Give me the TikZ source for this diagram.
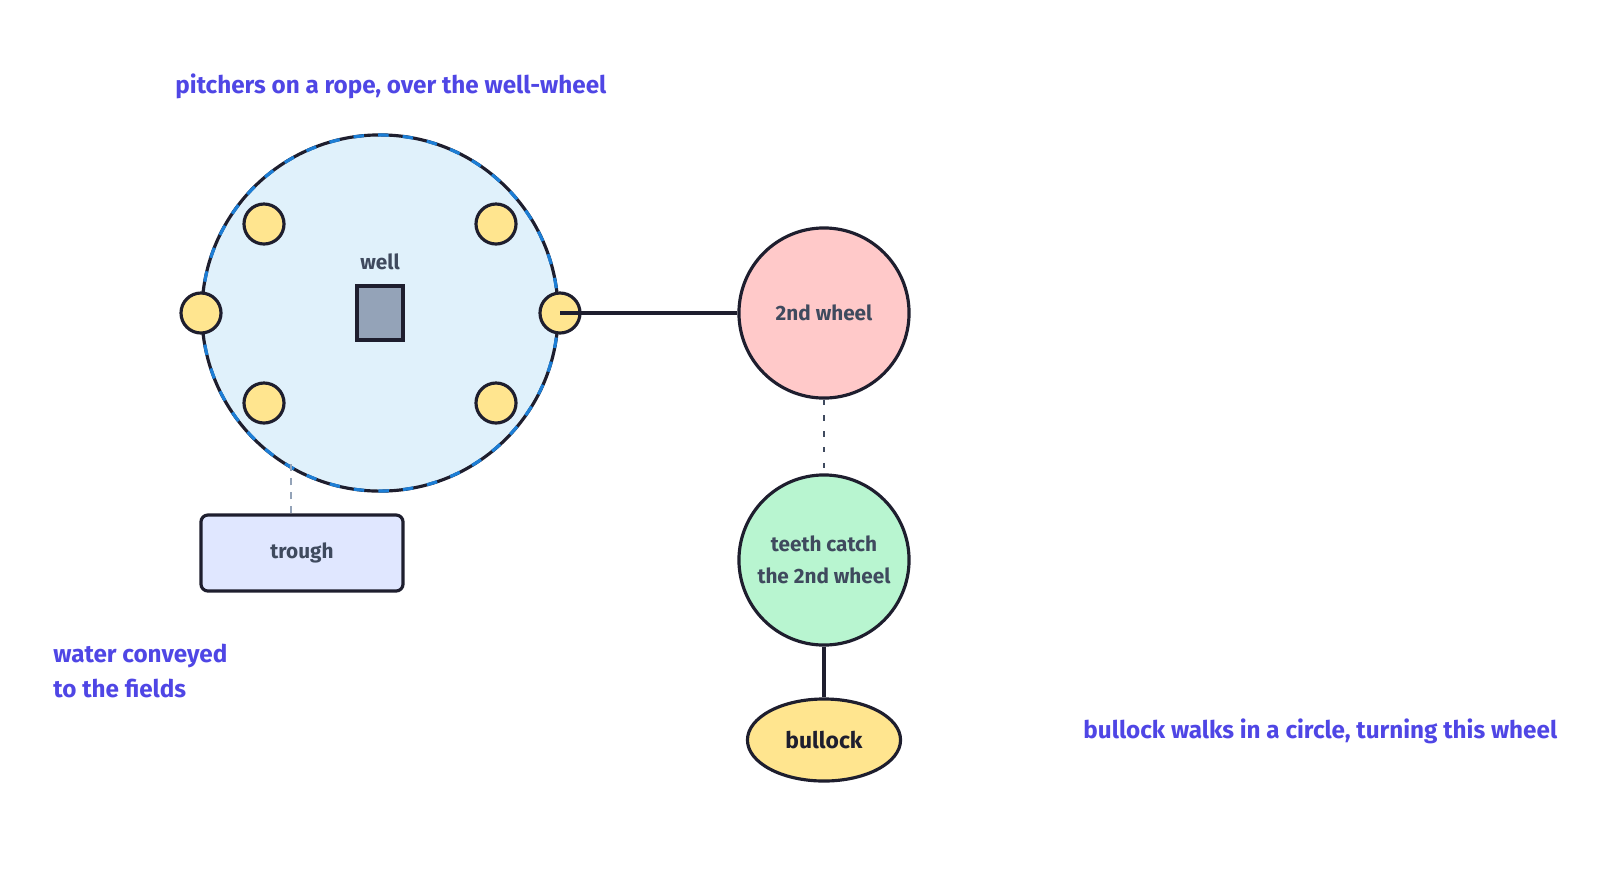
\documentclass[tikz,border=0pt]{standalone}
\usetikzlibrary{shapes.geometric}
\usepackage{fontspec}
\setmainfont{Fira Sans}
\definecolor{lblc}{HTML}{4F46E5}
\definecolor{txtc}{HTML}{3F4A5E}
\definecolor{ink}{HTML}{1E1E2E}
\definecolor{sqc}{HTML}{94A3B8}
\definecolor{grn}{HTML}{B8F5D0}
\definecolor{pink}{HTML}{FFC9C9}
\definecolor{yel}{HTML}{FFE58F}
\definecolor{wellc}{HTML}{E0F1FB}
\definecolor{trc}{HTML}{E0E7FF}
\definecolor{bluedash}{HTML}{1C7ED6}
\begin{document}
\begin{tikzpicture}[x=0.01cm,y=-0.01cm,
  lbl/.style={text=lblc,font=\fontsize{6.9}{8}\selectfont\bfseries,anchor=west,align=left},
  txt/.style={text=txtc,font=\fontsize{5.9}{9}\selectfont\bfseries,align=center},
  ln/.style={draw=ink,line width=0.9pt},
  pit/.style={circle,ln,fill=yel,minimum size=0.4cm,inner sep=0}]
\useasboundingbox (0,0) rectangle (1600,869);
\node[circle,ln,fill=wellc,minimum size=3.56cm,inner sep=0] (well) at (380,313) {};
\draw[bluedash,line width=0.9pt,dash pattern=on 3pt off 4pt] (380,313) circle[radius=178];
\node[draw=ink,line width=0.9pt,fill=sqc,minimum width=0.46cm,minimum height=0.54cm,inner sep=0] (sq) at (380,313) {};
\node[txt] (welllbl) at (380,262) {well};
\node[pit] (p1) at (264,224) {};
\node[pit] (p2) at (496,224) {};
\node[pit] (p3) at (201,313) {};
\node[pit] (p4) at (560,313) {};
\node[pit] (p5) at (264,403) {};
\node[pit] (p6) at (496,403) {};
\node[circle,ln,fill=pink,minimum size=1.7cm,inner sep=0,txt] (w2) at (824,313) {2nd wheel};
\node[circle,ln,fill=grn,minimum size=1.7cm,inner sep=0,txt] (teeth) at (824,560) {teeth catch\\the 2nd wheel};
\node[ellipse,ln,fill=yel,minimum width=1.53cm,minimum height=0.82cm,inner sep=0,text=ink,font=\fontsize{6.5}{8}\selectfont\bfseries] (bull) at (824,740) {bullock};
\node[rounded corners=2pt,ln,fill=trc,minimum width=2.02cm,minimum height=0.76cm,txt] (trough) at (302,553) {trough};
\coordinate (tc) at (291,458);
\draw[ln] (p4.center) -- (w2);
\draw[txtc,line width=0.8pt,dash pattern=on 1.5pt off 3pt] (w2) -- (teeth);
\draw[sqc,line width=0.7pt,dash pattern=on 2pt off 2pt] (trough.north -| tc) -- (tc);
\draw[ln] (teeth) -- (bull);
\node[lbl] (l1) at (163,86) {pitchers on a rope, over the well-wheel};
\node[lbl] (l2) at (41,671) {water conveyed\\[2pt]to the fields};
\node[lbl] (l3) at (1071,731) {bullock walks in a circle, turning this wheel};
\end{tikzpicture}
\end{document}
